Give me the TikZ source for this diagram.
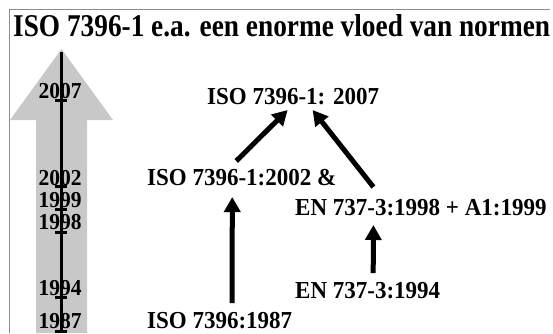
\documentclass[tikz,border=0pt]{standalone}
\usepackage{fontspec}
\setmainfont{Liberation Serif}
\usetikzlibrary{arrows.meta}
\definecolor{shaft}{RGB}{200,200,200}
\definecolor{frame}{RGB}{140,140,140}
\newcommand{\tallA}[1]{\scalebox{1}[1.16]{#1}}
\newcommand{\tallB}[1]{\scalebox{1}[1.06]{#1}}
\tikzset{
  lbl/.style={inner sep=0pt, anchor=base west, font=\fontsize{23}{25}\selectfont\bfseries},
  yr/.style={inner sep=0pt, anchor=base, font=\fontsize{21.5}{23}\selectfont\bfseries},
  flow/.style={line width=5pt, -{Triangle[length=15pt,width=16pt]}},
  tick/.style={line width=3pt},
}
\begin{document}
\begin{tikzpicture}[x=1pt,y=-1pt]
\useasboundingbox (0,0) rectangle (553,333);
% frame
\draw[frame, line width=1pt] (9,333) -- (9,9.5) -- (550,9.5);
% title
\node[inner sep=0pt, anchor=base west, font=\fontsize{27.3}{29}\selectfont\bfseries] (title) at (13,36) {\tallA{ISO 7396-1 e.a. een enorme vloed van normen}};
% gray time arrow
\fill[shaft] (36,333) -- (36,120) -- (10,120) -- (61.5,49) -- (113,120) -- (87,120) -- (87,333) -- cycle;
% years
\node[yr] (y2007) at (60,98) {\tallB{2007}};
\node[yr] (y2002) at (60,185) {\tallB{2002}};
\node[yr] (y1999) at (60,207) {\tallB{1999}};
\node[yr] (y1998) at (60,229) {\tallB{1998}};
\node[yr] (y1994) at (60,295) {\tallB{1994}};
\node[yr] (y1987) at (60,328) {\tallB{1987}};
% time line and ticks
\coordinate (ltop) at (61,52);
\coordinate (lbot) at (61,333);
\draw[line width=3pt] (ltop) -- (lbot);
\foreach \t in {100,186,209,232,297,331}
  \draw[tick] (55,\t) -- (67,\t);
% standards
\node[lbl] (A) at (207,104) {\tallB{ISO 7396-1: 2007}};
\node[lbl] (B) at (147,185) {\tallB{ISO 7396-1:2002 \&}};
\node[lbl] (C) at (295,215) {\tallB{EN 737-3:1998 + A1:1999}};
\node[lbl] (D) at (295,298) {\tallB{EN 737-3:1994}};
\node[lbl] (E) at (147,328) {\tallB{ISO 7396:1987}};
% connectors
\draw[flow] ([xshift=-5.5pt,yshift=24pt]B.base) -- ([xshift=-5.5pt,yshift=-6pt]A.base);
\draw[flow] ([xshift=-47.5pt,yshift=28pt]C.base) -- ([xshift=19.5pt,yshift=-6pt]A.base);
\draw[flow] ([xshift=12.5pt,yshift=25pt]E.base) -- ([xshift=-9.5pt,yshift=-12pt]B.base);
\draw[flow] ([xshift=5.5pt,yshift=25pt]D.base) -- ([xshift=-47.5pt,yshift=-10pt]C.base);
\end{tikzpicture}
\end{document}
